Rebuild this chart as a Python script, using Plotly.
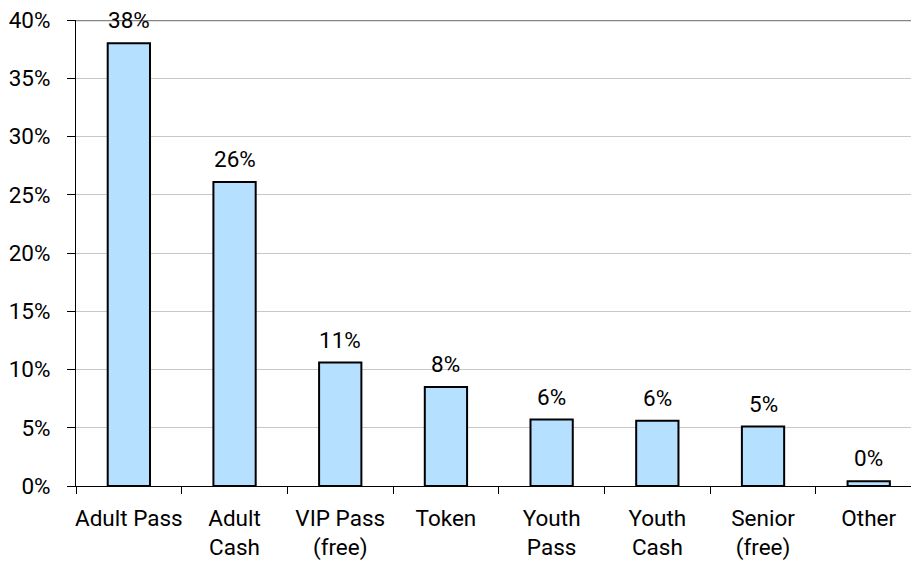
import plotly.graph_objects as go

# Share of boardings by fare type
categories = ["Adult Pass", "Adult<br>Cash", "VIP Pass<br>(free)", "Token",
              "Youth<br>Pass", "Youth<br>Cash", "Senior<br>(free)", "Other"]
shares = [0.38, 0.261, 0.106, 0.085, 0.057, 0.056, 0.051, 0.004]
y_ticks = [0, 0.05, 0.10, 0.15, 0.20, 0.25, 0.30, 0.35, 0.40]
y_tick_labels = ["0%", "5%", "10%", "15%", "20%", "25%", "30%", "35%", "40%"]

FONT = "Roboto, Liberation Sans, Arial, sans-serif"
FS = 22.5

fig = go.Figure(
    go.Bar(
        x=categories,
        y=shares,
        marker=dict(color="#B5E0FF", line=dict(color="black", width=2)),
        cliponaxis=False,
        width=0.4,
    )
)

# value labels above each bar
for cat, v in zip(categories, shares):
    fig.add_annotation(
        x=cat, y=v, text=f"{round(v * 100):.0f}%",
        showarrow=False, yanchor="bottom", yshift=8,
        font=dict(size=FS, color="black", family=FONT),
    )

fig.update_layout(
    width=911,
    height=566,
    margin=dict(l=76, r=0, t=20, b=80, autoexpand=False),
    paper_bgcolor="white",
    plot_bgcolor="white",
    font=dict(family=FONT, size=FS, color="black"),
    showlegend=False,
    xaxis=dict(
        range=[-0.5, 7.4],
        tickson="boundaries",
        ticks="outside",
        ticklen=7,
        tickwidth=1,
        tickcolor="black",
        tickangle=0,
        ticklabelstandoff=12,
        automargin=False,
        showline=True,
        linecolor="black",
        linewidth=1,
        showgrid=False,
        tickfont=dict(size=FS),
    ),
    yaxis=dict(
        range=[0, 0.4],
        tickvals=y_ticks,
        ticktext=y_tick_labels,
        ticks="outside",
        ticklen=8,
        tickwidth=1,
        tickcolor="black",
        ticklabelstandoff=12,
        automargin=False,
        showline=True,
        linecolor="black",
        linewidth=1,
        showgrid=True,
        gridcolor="#C8C8C8",
        gridwidth=1,
        zeroline=False,
        tickfont=dict(size=FS),
    ),
    shapes=[
        dict(type="line", xref="paper", yref="y", x0=0, x1=1, y0=0.4, y1=0.4,
             line=dict(color="#858585", width=2.5), layer="below"),
    ],
)

fig.write_html("out.html")
